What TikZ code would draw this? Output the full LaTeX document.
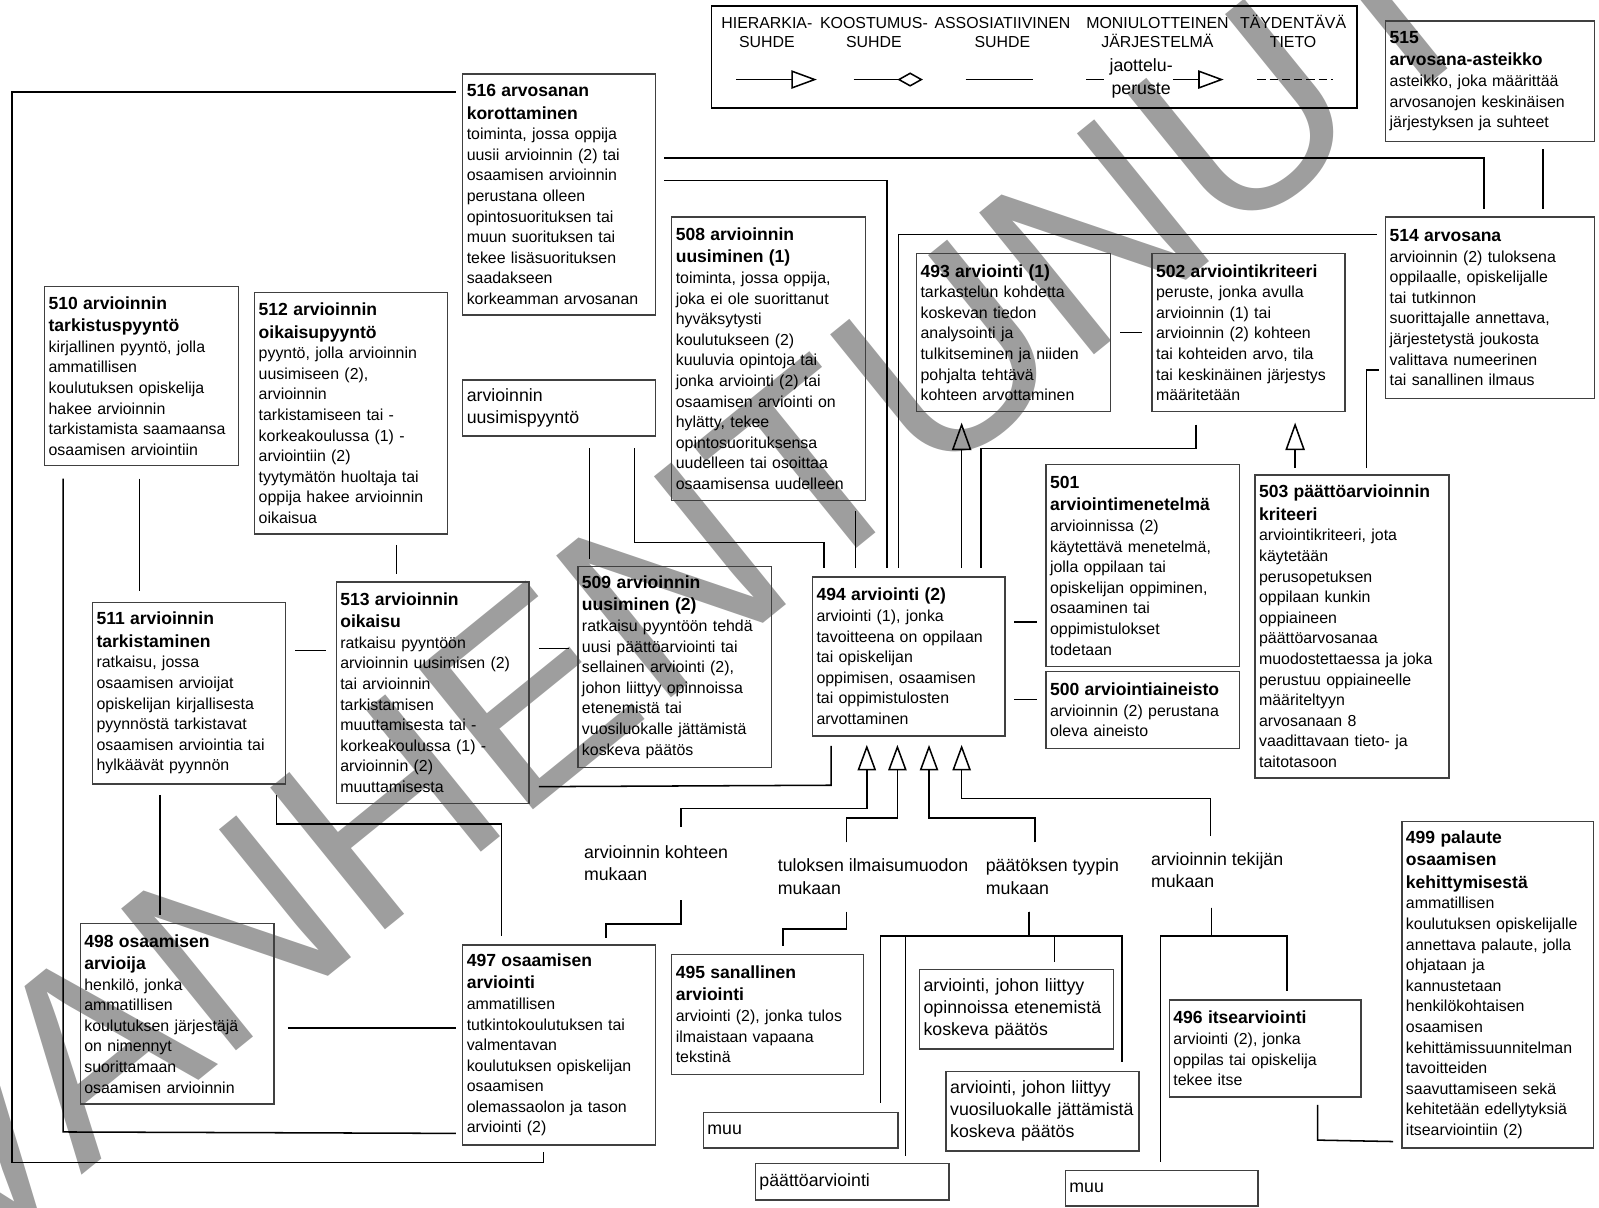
\documentclass[tikz,border=0pt]{standalone}
\usepackage{fontspec}
\setmainfont{Liberation Sans}
\usetikzlibrary{arrows.meta,calc}
\newcommand\ttl[1]{{\fontsize{8.6}{11}\selectfont\bfseries #1\par}}
\newcommand\fs{\rule{0pt}{7pt}}
\begin{document}
\begin{tikzpicture}[x=0.5pt,y=-0.5pt,
  line width=0.75pt,
  bx/.style 2 args={draw=black!75, line width=0.7pt, anchor=north west, inner xsep=2pt, inner ysep=1pt, align=left, text width=#1pt, minimum height=#2pt, font=\fontsize{7.8}{10.1}\selectfont},
  pb/.style 2 args={bx={#1}{#2}, font=\fontsize{8.7}{10.75}\selectfont},
  lbl/.style={anchor=north west, inner sep=0pt, align=left, font=\fontsize{8.7}{11}\selectfont},
  lg/.style={anchor=north, inner sep=0pt, align=center, font=\fontsize{7.8}{9}\selectfont},
  hier/.style={-{Triangle[open,length=13.5pt,width=9.5pt]}},
  hiersm/.style={-{Triangle[open,length=12.5pt,width=9pt]}},
]
\useasboundingbox (0,0) rectangle (1568,1184);
% watermark
\begin{scope}
\clip (0,0) rectangle (1568,1184);
\node[rotate=39, anchor=base west, inner sep=0pt, text=black!38, font=\fontsize{130}{130}\selectfont] (wm) at (-40,1250) {VANHENTUNUT};
\end{scope}

% legend
\node[draw, line width=0.75pt, anchor=north west, minimum width=316.5pt, minimum height=50pt, inner sep=0pt] (legend) at (697,5) {};
\node[lg] (lg1) at (752,13.5) {\fs HIERARKIA-\\SUHDE};
\node[lg] (lg2) at (857,13.5) {\fs KOOSTUMUS-\\SUHDE};
\node[lg] (lg3) at (983,13.5) {\fs ASSOSIATIIVINEN\\SUHDE};
\node[lg] (lg4) at (1135,13.5) {\fs MONIULOTTEINEN\\JÄRJESTELMÄ};
\node[lg] (lg5) at (1268,13.5) {\fs TÄYDENTÄVÄ\\TIETO};
\node[lg, font=\fontsize{8.7}{11.5}\selectfont] (lg6) at (1119,55) {\fs jaottelu-\\peruste};
\draw[hiersm] (722,78) -- (801,78);
\draw[-{Diamond[open,length=12.5pt,width=7pt]}] (837,78) -- (905,78);
\draw (947,78) -- (1013,78);
\draw (1065,78) -- (1083,78);
\draw[hiersm] (1150,78) -- (1200,78);
\draw[dash pattern=on 4pt off 2pt] (1233,78) -- (1307,78);

% boxes
\node[bx={98.5}{59}] (n515) at (1358,20) {\ttl{515\\arvosana-asteikko}asteikko, joka määrittää\\arvosanojen keskinäisen\\järjestyksen ja suhteet};
\node[bx={90.5}{118}] (n516) at (453,72) {\ttl{516 arvosanan\\korottaminen}toiminta, jossa oppija\\uusii arvioinnin (2) tai\\osaamisen arvioinnin\\perustana olleen\\opintosuorituksen tai\\muun suorituksen tai\\tekee lisäsuorituksen\\saadakseen\\korkeamman arvosanan};
\node[bx={98.5}{89}] (n514) at (1358,212) {\ttl{514 arvosana}arvioinnin (2) tuloksena\\oppilaalle, opiskelijalle\\tai tutkinnon\\suorittajalle annettava,\\järjestetystä joukosta\\valittava numeerinen\\tai sanallinen ilmaus};
\node[bx={91}{139}] (n508) at (658,212) {\ttl{508 arvioinnin\\uusiminen (1)}toiminta, jossa oppija,\\joka ei ole suorittanut\\hyväksytysti\\koulutukseen (2)\\kuuluvia opintoja tai\\jonka arviointi (2) tai\\osaamisen arviointi on\\hylätty, tekee\\opintosuorituksensa\\uudelleen tai osoittaa\\osaamisensa uudelleen};
\node[bx={91}{77.5}] (n493) at (898,248) {\ttl{493 arviointi (1)}tarkastelun kohdetta\\koskevan tiedon\\analysointi ja\\tulkitseminen ja niiden\\pohjalta tehtävä\\kohteen arvottaminen};
\node[bx={90.5}{77.5}] (n502) at (1129,248) {\ttl{502 arviointikriteeri}peruste, jonka avulla\\arvioinnin (1) tai\\arvioinnin (2) kohteen\\tai kohteiden arvo, tila\\tai keskinäinen järjestys\\määritetään};
\node[bx={91}{88}] (n510) at (43,280) {\ttl{510 arvioinnin\\tarkistuspyyntö}kirjallinen pyyntö, jolla\\ammatillisen\\koulutuksen opiskelija\\hakee arvioinnin\\tarkistamista saamaansa\\osaamisen arviointiin};
\node[bx={90.5}{118.5}] (n512) at (249,286) {\ttl{512 arvioinnin\\oikaisupyyntö}pyyntö, jolla arvioinnin\\uusimiseen (2),\\arvioinnin\\tarkistamiseen tai -\\korkeakoulussa (1) -\\arviointiin (2)\\tyytymätön huoltaja tai\\oppija hakee arvioinnin\\oikaisua};
\node[pb={90.5}{27.5}] (nuus) at (453,372) {arvioinnin\\uusimispyyntö};
\node[bx={91}{99}] (n501) at (1025,455) {\ttl{501\\arviointimenetelmä}arvioinnissa (2)\\käytettävä menetelmä,\\jolla oppilaan tai\\opiskelijan oppiminen,\\osaaminen tai\\oppimistulokset\\todetaan};
\node[bx={91}{148.5}] (n503) at (1230,465) {\ttl{503 päättöarvioinnin\\kriteeri}arviointikriteeri, jota\\käytetään\\perusopetuksen\\oppilaan kunkin\\oppiaineen\\päättöarvosanaa\\muodostettaessa ja joka\\perustuu oppiaineelle\\määriteltyyn\\arvosanaan 8\\vaadittavaan tieto- ja\\taitotasoon};
\node[bx={90.5}{78}] (n494) at (796,565) {\ttl{494 arviointi (2)}arviointi (1), jonka\\tavoitteena on oppilaan\\tai opiskelijan\\oppimisen, osaamisen\\tai oppimistulosten\\arvottaminen};
\node[bx={91}{37.5}] (n500) at (1025,658) {\ttl{500 arviointiaineisto}arvioinnin (2) perustana\\oleva aineisto};
\node[bx={90.5}{108.5}] (n513) at (329,570) {\ttl{513 arvioinnin\\oikaisu}ratkaisu pyyntöön\\arvioinnin uusimisen (2)\\tai arvioinnin\\tarkistamisen\\muuttamisesta tai -\\korkeakoulussa (1) -\\arvioinnin (2)\\muuttamisesta};
\node[bx={91}{98.5}] (n509) at (566,555) {\ttl{509 arvioinnin\\uusiminen (2)}ratkaisu pyyntöön tehdä\\uusi päättöarviointi tai\\sellainen arviointi (2),\\johon liittyy opinnoissa\\etenemistä tai\\vuosiluokalle jättämistä\\koskeva päätös};
\node[bx={90.5}{89}] (n511) at (90,590) {\ttl{511 arvioinnin\\tarkistaminen}ratkaisu, jossa\\osaamisen arvioijat\\opiskelijan kirjallisesta\\pyynnöstä tarkistavat\\osaamisen arviointia tai\\hylkäävät pyynnön};
\node[bx={91}{88.5}] (n498) at (78,905) {\ttl{498 osaamisen\\arvioija}henkilö, jonka\\ammatillisen\\koulutuksen järjestäjä\\on nimennyt\\suorittamaan\\osaamisen arvioinnin};
\node[bx={90.5}{98}] (n497) at (453,926) {\ttl{497 osaamisen\\arviointi}ammatillisen\\tutkintokoulutuksen tai\\valmentavan\\koulutuksen opiskelijan\\osaamisen\\olemassaolon ja tason\\arviointi (2)};
\node[bx={90}{59}] (n495) at (658,935) {\ttl{495 sanallinen\\arviointi}arviointi (2), jonka tulos\\ilmaistaan vapaana\\tekstinä};
\node[bx={90}{160}] (n499) at (1374,805) {\ttl{499 palaute\\osaamisen\\kehittymisestä}ammatillisen\\koulutuksen opiskelijalle\\annettava palaute, jolla\\ohjataan ja\\kannustetaan\\henkilökohtaisen\\osaamisen\\kehittämissuunnitelman\\tavoitteiden\\saavuttamiseen sekä\\kehitetään edellytyksiä\\itsearviointiin (2)};
\node[bx={90}{47.5}] (n496) at (1146,980) {\ttl{496 itsearviointi}arviointi (2), jonka\\oppilas tai opiskelija\\tekee itse};
\node[pb={91}{39}] (nopin) at (901,950) {arviointi, johon liittyy\\opinnoissa etenemistä\\koskeva päätös};
\node[pb={90.5}{39}] (nvuosi) at (927,1050) {arviointi, johon liittyy\\vuosiluokalle jättämistä\\koskeva päätös};
\node[pb={91.5}{17.5}] (nmuuA) at (689,1090) {muu};
\node[pb={91}{18}] (npaatto) at (740,1140) {päättöarviointi};
\node[pb={90.5}{17.5}] (nmuuB) at (1044,1147) {muu};

% labels
\node[lbl] (lblA) at (572,827) {\fs arvioinnin kohteen\\mukaan};
\node[lbl] (lblB) at (762,840) {\fs tuloksen ilmaisumuodon\\mukaan};
\node[lbl] (lblC) at (966,840) {\fs päätöksen tyypin\\mukaan};
\node[lbl] (lblD) at (1128,834) {\fs arvioinnin tekijän\\mukaan};

% connectors
\draw ($(n516.north west)+(-6,18)$) -- (12,90) -- (12,1140) -- (533,1140) -- ($(n497.south west)+(80,6)$);
\draw ($(n510.south west)+(19,12)$) -- (62,1110) -- ($(n497.south west)+(-6,-12)$);
\draw ($(n510.south west)+(94,12)$) -- ($(n511.north west)+(47,-10)$);
\draw ($(n511.south west)+(67,10)$) -- ($(n498.north west)+(79,-8)$);
\draw ($(n511.south west)+(181,10)$) -- (271,808) -- (492,808) -- ($(n497.north west)+(39,-8)$);
\draw ($(n512.south west)+(140,10)$) -- ($(n513.north west)+(60,-7)$);
\draw ($(n511.north east)+(9,48)$) -- ($(n513.north west)+(-9,68)$);
\draw ($(n513.north east)+(9,66)$) -- ($(n509.north west)+(-8,81)$);
\draw ($(n498.north east)+(13,103)$) -- ($(n497.north west)+(-6,82)$);
\draw ($(nuus.south west)+(125,11)$) -- ($(n509.north west)+(12,-7)$);
\draw ($(nuus.south west)+(169,11)$) -- (622,532) -- (808,532) -- ($(n494.north west)+(12,-8)$);
\draw ($(n508.south west)+(181,10)$) -- ($(n494.north west)+(43,-8)$);
\draw ($(n516.north east)+(8,83)$) -- (1455,155) -- ($(n514.north west)+(97,-7)$);
\draw ($(n516.north east)+(8,105)$) -- (870,177) -- ($(n494.north west)+(74,-8)$);
\draw ($(n514.north west)+(-8,18)$) -- (881,230) -- ($(n494.north west)+(85,-8)$);
\draw ($(n515.south west)+(155,7)$) -- ($(n514.north west)+(155,-7)$);
\draw ($(n493.north east)+(9,78)$) -- ($(n502.north west)+(-9,78)$);
\draw[hier] ($(n494.north west)+(147,-8)$) -- ($(n493.south west)+(45,10)$);
\draw ($(n502.south west)+(44,12)$) -- (1173,440) -- (962,440) -- ($(n494.north west)+(166,-8)$);
\draw[hier] ($(n503.north west)+(40,-6)$) -- ($(n502.south west)+(141,10)$);
\draw ($(n503.north west)+(110,-6)$) -- (1340,363) -- ($(n514.north west)+(-6,151)$);
\draw ($(n494.north east)+(8,45)$) -- ($(n501.north west)+(-8,155)$);
\draw ($(n494.north east)+(8,121)$) -- ($(n500.north west)+(-8,28)$);
\draw ($(n513.south east)+(9,-17)$) -- (815,770) -- ($(n494.south west)+(19,9)$);

\draw[hiersm] ($(lblA.north west)+(96,-16)$) -- (668,793) -- (850,793) -- ($(n494.south west)+(54,8)$);
\draw[hiersm] ($(lblB.north west)+(68,-14)$) -- (830,802) -- (880,802) -- ($(n494.south west)+(84,8)$);
\draw[hiersm] ($(lblC.north west)+(49,-14)$) -- (1015,802) -- (911,802) -- ($(n494.south west)+(115,8)$);
\draw[hiersm] ($(lblD.north west)+(59,-14)$) -- (1187,783) -- (943,783) -- ($(n494.south west)+(147,8)$);

\draw ($(lblA.north west)+(96,56)$) -- (668,906) -- (594,906) -- ($(n497.north west)+(141,-6)$);
\draw ($(lblB.north west)+(68,54)$) -- (830,911) -- (768,911) -- ($(n495.north west)+(110,-7)$);
\draw ($(lblC.north west)+(43,54)$) -- (1009,918) -| ($(nmuuA.north east)+(-18,-8)$);
\draw ($(lblC.north west)+(43,54)$) -- (1009,918) -| ($(npaatto.north west)+(148,-6)$);
\draw ($(lblC.north west)+(43,54)$) -- (1009,918) -| ($(nopin.north west)+(133,-7)$);
\draw ($(lblC.north west)+(43,54)$) -- (1009,918) -| ($(nvuosi.north west)+(173,-9)$);
\draw ($(lblD.north west)+(60,56)$) -- (1188,918) -| ($(nmuuB.north west)+(94,-8)$);
\draw ($(lblD.north west)+(60,56)$) -- (1188,918) -| ($(n496.north west)+(116,-8)$);
\draw ($(n496.south west)+(146,7)$) -- (1292,1118) -- ($(n499.south west)+(-8,-7)$);
\end{tikzpicture}
\end{document}
